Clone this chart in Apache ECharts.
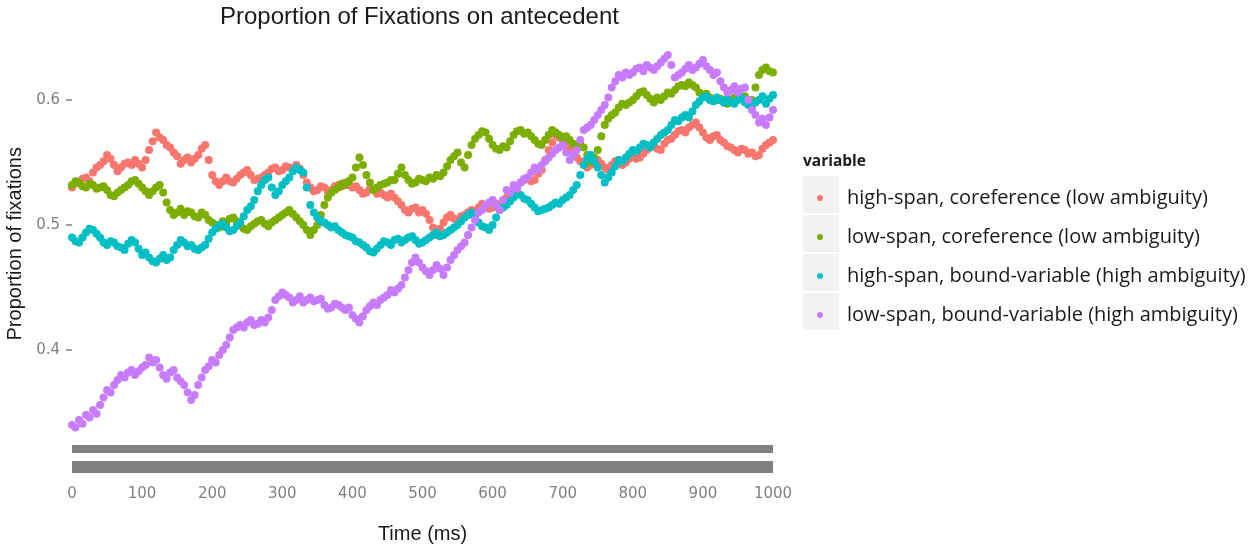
<!DOCTYPE html>
<html><head><meta charset="utf-8">
<script src="https://cdn.jsdelivr.net/npm/echarts@6/dist/echarts.min.js"></script>
<style>html,body{margin:0;padding:0;background:#fff}#c{width:1260px;height:548px}</style>
</head><body><div id="c"></div>
<script>
const timeMs = [
0,5,10,15,20,25,30,35,40,45,50,55,60,65,70,75,80,85,90,95,
100,105,110,115,120,125,130,135,140,145,150,155,160,165,170,175,180,185,190,195,
200,205,210,215,220,225,230,235,240,245,250,255,260,265,270,275,280,285,290,295,
300,305,310,315,320,325,330,335,340,345,350,355,360,365,370,375,380,385,390,395,
400,405,410,415,420,425,430,435,440,445,450,455,460,465,470,475,480,485,490,495,
500,505,510,515,520,525,530,535,540,545,550,555,560,565,570,575,580,585,590,595,
600,605,610,615,620,625,630,635,640,645,650,655,660,665,670,675,680,685,690,695,
700,705,710,715,720,725,730,735,740,745,750,755,760,765,770,775,780,785,790,795,
800,805,810,815,820,825,830,835,840,845,850,855,860,865,870,875,880,885,890,895,
900,905,910,915,920,925,930,935,940,945,950,955,960,965,970,975,980,985,990,995,
1000];

const seriesNames = [
  'high-span, coreference (low ambiguity)',
  'low-span, coreference (low ambiguity)',
  'high-span, bound-variable (high ambiguity)',
  'low-span, bound-variable (high ambiguity)'
];
const seriesColors = ['#F8766D','#7CAE00','#00BFC4','#C77CFF'];

const highSpanCoref = [
.530,.533,.534,.537,.538,.535,.542,.546,.548,.551,.556,.553,.548,.543,.546,.549,.550,.548,.552,.549,
.546,.552,.560,.567,.574,.570,.568,.564,.562,.558,.555,.549,.552,.554,.550,.553,.556,.561,.564,.552,
.540,.535,.532,.535,.538,.535,.534,.537,.540,.542,.544,.540,.536,.537,.538,.540,.542,.545,.546,.543,
.544,.547,.546,.544,.548,.545,.540,.534,.530,.527,.528,.531,.530,.527,.528,.531,.532,.531,.534,.532,
.530,.531,.528,.525,.526,.529,.528,.525,.526,.524,.522,.525,.522,.519,.516,.512,.510,.513,.514,.510,
.512,.509,.504,.498,.492,.497,.502,.506,.508,.505,.504,.507,.508,.510,.512,.511,.514,.517,.516,.513,
.514,.517,.516,.519,.522,.525,.528,.531,.534,.536,.538,.535,.536,.541,.544,.552,.560,.566,.572,.570,
.568,.563,.560,.558,.554,.551,.550,.546,.548,.551,.552,.549,.546,.544,.548,.551,.552,.548,.550,.553,
.556,.553,.554,.557,.560,.563,.564,.561,.560,.565,.568,.569,.572,.575,.576,.574,.578,.580,.582,.578,
.574,.570,.568,.571,.572,.568,.566,.563,.562,.560,.558,.561,.560,.557,.558,.555,.556,.561,.564,.566,
.568];

const lowSpanCoref = [
.532,.535,.534,.531,.530,.533,.532,.529,.530,.531,.528,.524,.523,.526,.528,.530,.532,.535,.536,.533,
.530,.527,.524,.527,.530,.532,.526,.518,.512,.508,.510,.513,.508,.511,.510,.507,.506,.510,.508,.504,
.502,.500,.498,.503,.502,.505,.506,.503,.500,.497,.496,.499,.501,.503,.504,.501,.499,.502,.504,.506,
.508,.510,.512,.509,.506,.503,.500,.496,.492,.496,.500,.508,.516,.522,.526,.528,.530,.533,.532,.535,
.538,.546,.554,.548,.540,.534,.528,.530,.532,.533,.534,.536,.536,.541,.546,.540,.536,.533,.534,.537,
.536,.535,.538,.537,.540,.539,.542,.547,.552,.555,.558,.550,.546,.556,.564,.569,.572,.575,.574,.569,
.564,.561,.560,.563,.562,.567,.572,.575,.576,.573,.574,.571,.568,.565,.564,.568,.572,.576,.574,.572,
.570,.571,.568,.565,.564,.565,.562,.556,.550,.554,.560,.571,.580,.585,.588,.590,.594,.597,.596,.598,
.600,.603,.606,.607,.604,.601,.598,.602,.600,.603,.606,.605,.608,.611,.612,.611,.614,.612,.610,.606,
.604,.605,.602,.599,.600,.601,.598,.597,.600,.602,.604,.601,.603,.599,.600,.610,.620,.624,.626,.623,
.622];

const highSpanBound = [
.490,.487,.486,.490,.494,.497,.496,.493,.490,.486,.484,.487,.486,.483,.482,.480,.485,.488,.486,.481,
.476,.478,.474,.471,.470,.473,.476,.472,.474,.480,.484,.488,.486,.483,.484,.481,.480,.482,.484,.489,
.494,.497,.500,.501,.498,.495,.496,.499,.502,.507,.512,.515,.520,.527,.532,.536,.538,.530,.524,.527,
.532,.535,.538,.543,.546,.544,.542,.530,.516,.510,.506,.503,.502,.500,.498,.499,.496,.494,.492,.491,
.490,.487,.486,.484,.482,.479,.478,.481,.484,.487,.486,.484,.488,.489,.486,.488,.490,.491,.488,.485,
.486,.488,.490,.492,.494,.491,.492,.494,.496,.498,.500,.503,.506,.508,.510,.506,.502,.499,.498,.496,
.500,.506,.512,.514,.516,.519,.522,.526,.524,.521,.520,.517,.514,.511,.512,.513,.514,.516,.518,.517,
.520,.522,.524,.528,.532,.540,.548,.553,.556,.551,.546,.540,.534,.538,.542,.547,.552,.551,.554,.557,
.560,.559,.562,.565,.564,.562,.566,.569,.572,.574,.576,.580,.584,.583,.586,.588,.586,.591,.596,.599,
.602,.603,.600,.599,.602,.600,.598,.601,.598,.597,.600,.602,.598,.596,.595,.598,.600,.603,.597,.601,
.604];

const lowSpanBound = [
.340,.338,.344,.341,.348,.346,.352,.349,.356,.362,.368,.366,.372,.376,.380,.378,.382,.384,.380,.383,
.386,.388,.394,.390,.392,.386,.380,.377,.382,.384,.378,.375,.372,.366,.360,.364,.372,.378,.384,.387,
.392,.390,.396,.400,.404,.410,.416,.418,.420,.418,.422,.424,.420,.421,.424,.422,.426,.432,.440,.443,
.446,.444,.442,.438,.440,.443,.438,.440,.442,.439,.440,.441,.436,.433,.434,.437,.436,.434,.432,.434,
.428,.425,.422,.427,.432,.435,.438,.436,.440,.442,.444,.448,.446,.449,.452,.458,.464,.470,.474,.470,
.466,.463,.460,.464,.468,.465,.460,.466,.472,.476,.480,.483,.486,.492,.498,.504,.510,.512,.516,.518,
.520,.516,.512,.520,.528,.526,.532,.529,.534,.537,.538,.542,.546,.544,.548,.551,.554,.557,.560,.562,
.564,.558,.552,.556,.560,.568,.576,.578,.580,.584,.588,.592,.596,.602,.610,.615,.620,.618,.622,.620,
.622,.625,.626,.623,.628,.626,.624,.627,.630,.633,.636,.628,.618,.620,.622,.625,.628,.624,.626,.629,
.632,.627,.624,.620,.622,.615,.610,.606,.608,.611,.606,.609,.610,.600,.592,.588,.582,.585,.580,.586,
.592];

const yTickValues = [0.4, 0.5, 0.6];
const xTickInterval = 100;

const valueSets = [highSpanCoref, lowSpanCoref, highSpanBound, lowSpanBound];

const chart = echarts.init(document.getElementById('c'), null, {renderer: 'canvas'});

const series = valueSets.map((vals, i) => ({
  name: seriesNames[i],
  type: 'scatter',
  xAxisIndex: 0,
  yAxisIndex: 0,
  symbol: 'circle',
  symbolSize: 8,
  itemStyle: {color: seriesColors[i], opacity: 1},
  emphasis: {disabled: true},
  data: timeMs.map((t, j) => [t, vals[j]])
}));

const greyBarAxis = (offset, width) => ({
  type: 'value', gridIndex: 0, min: 0, max: 1000, position: 'bottom', offset: offset,
  axisLine: {show: true, lineStyle: {color: '#808080', width: width, cap: 'butt'}},
  axisTick: {show: false}, axisLabel: {show: false}, splitLine: {show: false}
});

const keyRects = [176, 215, 254, 293].map(y => ({
  type: 'rect', left: 803, top: y, shape: {width: 36, height: 37},
  style: {fill: '#f2f2f2'}, z: 0
}));

chart.setOption({
  backgroundColor: '#ffffff',
  animation: false,
  title: [
    {text: 'Proportion of Fixations on antecedent', left: 220, top: 5, padding: 0,
     textStyle: {fontSize: 24, fontWeight: 'normal', color: '#1a1a1a', fontFamily: 'Liberation Sans'}},
    {text: 'variable', left: 803, top: 154, padding: 0,
     textStyle: {fontSize: 15.5, fontWeight: 'bold', color: '#1a1a1a', fontFamily: 'Open Sans'}}
  ],
  legend: {
    orient: 'vertical', left: 817, top: 187, padding: 0,
    icon: 'circle', itemWidth: 6, itemHeight: 6, itemGap: 17,
    data: seriesNames,
    textStyle: {fontSize: 20, color: '#1a1a1a', fontFamily: 'Open Sans', lineHeight: 22, padding: [0, 0, 0, 19]}
  },
  graphic: keyRects,
  grid: {left: 72, right: 487, top: 50, bottom: 110.5, containLabel: false, outerBoundsMode: 'none'},
  xAxis: [
    {type: 'value', min: 0, max: 1000, interval: xTickInterval,
     axisLine: {show: false}, axisTick: {show: false}, splitLine: {show: false},
     axisLabel: {margin: 49, color: '#808080', fontSize: 15, fontFamily: 'DejaVu Sans', formatter: v => String(v)},
     name: 'Time (ms)', nameLocation: 'middle', nameGap: 87,
     nameTextStyle: {fontSize: 20, color: '#1a1a1a', fontFamily: 'Liberation Sans'}},
    greyBarAxis(11.5, 8),
    greyBarAxis(29.5, 12)
  ],
  yAxis: {
    type: 'value', min: 0.33, max: 0.64,
    axisLine: {show: false}, splitLine: {show: false},
    axisTick: {show: true, length: 6, customValues: yTickValues, lineStyle: {color: '#808080', width: 1.5}},
    axisLabel: {customValues: yTickValues, formatter: v => v.toFixed(1), margin: 12,
                color: '#808080', fontSize: 15, fontFamily: 'DejaVu Sans'},
    name: 'Proportion of fixations', nameLocation: 'middle', nameGap: 34, nameRotate: 90,
    nameTextStyle: {fontSize: 20, color: '#1a1a1a', fontFamily: 'Liberation Sans'}
  },
  tooltip: {show: false},
  series: series
});
</script></body></html>
